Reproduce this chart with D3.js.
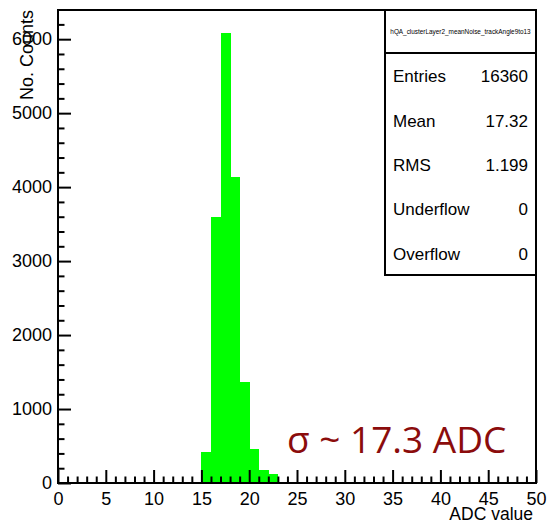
<html lang="en">
<head>
    <meta charset="utf-8">
    <title>hQA_clusterLayer2_meanNoise_trackAngle9to13</title>
    <script src="https://cdn.jsdelivr.net/npm/d3@7"></script>
    <style>
        body { margin: 0; background: #fff; }
        text { font-family: "Liberation Sans", Arial, sans-serif; }
    </style>
</head>
<body>
    <svg width="547" height="525"></svg>
    <script>
        // histogram content (1 ADC wide bins)
        var binLow = [15, 16, 17, 18, 19, 20, 21, 22];
        var counts = [420, 3590, 6090, 4140, 1360, 460, 180, 120];
        var binWidth = 1;

        var xMajorTicks = [0, 5, 10, 15, 20, 25, 30, 35, 40, 45, 50];
        var yMajorTicks = [0, 1000, 2000, 3000, 4000, 5000, 6000];

        var statNames = ["Entries", "Mean", "RMS", "Underflow", "Overflow"];
        var statValues = ["16360", "17.32", "1.199", "0", "0"];

        var histName = "hQA_clusterLayer2_meanNoise_trackAngle9to13";

        var svg = d3.select("svg"),
            frame = {left: 58, right: 536, top: 10, bottom: 483};

        var x = d3.scaleLinear().domain([0, 50]).range([frame.left, frame.right]);
        var y = d3.scaleLinear().domain([0, d3.max(counts) * 1.05]).range([frame.bottom, frame.top]);

        // bars
        svg.append("g").selectAll("rect")
            .data(binLow)
            .enter().append("rect")
            .attr("x", function(d) { return x(d); })
            .attr("width", function(d) { return x(d + binWidth) - x(d) + 0.5; })
            .attr("y", function(d, i) { return y(counts[i]); })
            .attr("height", function(d, i) { return y(0) - y(counts[i]); })
            .attr("shape-rendering", "crispEdges")
            .attr("fill", "#00ff00");

        // frame
        svg.append("rect")
            .attr("x", frame.left).attr("y", frame.top)
            .attr("width", frame.right - frame.left)
            .attr("height", frame.bottom - frame.top)
            .attr("fill", "none").attr("stroke", "#000").attr("stroke-width", 2);

        // x axis: major every 5, minor every 1, ticks pointing inside
        var xMinor = d3.range(0, 51, 1).filter(function(v) { return v % 5 !== 0; });
        var xAxis = svg.append("g")
            .attr("transform", "translate(0," + frame.bottom + ")")
            .call(d3.axisBottom(x).tickValues(xMajorTicks).tickSize(-13).tickPadding(9).tickSizeOuter(0));
        xAxis.select(".domain").remove();
        xAxis.selectAll(".tick line").attr("stroke-width", 2);
        xAxis.selectAll("text").style("font-size", "18px").attr("fill", "#000");
        svg.append("g")
            .attr("transform", "translate(0," + frame.bottom + ")")
            .call(d3.axisBottom(x).tickValues(xMinor).tickSize(-6.5).tickFormat(""))
            .call(function(g) { g.select(".domain").remove(); g.selectAll("line").attr("stroke-width", 2); });

        // y axis: major every 1000, minor every 200
        var yMinor = d3.range(0, 6400, 200).filter(function(v) { return v % 1000 !== 0; });
        var yAxis = svg.append("g")
            .attr("transform", "translate(" + frame.left + ",0)")
            .call(d3.axisLeft(y).tickValues(yMajorTicks).tickSize(-13).tickPadding(6).tickFormat(d3.format("d")));
        yAxis.select(".domain").remove();
        yAxis.selectAll(".tick line").attr("stroke-width", 2);
        yAxis.selectAll("text").style("font-size", "18px").attr("fill", "#000");
        svg.append("g")
            .attr("transform", "translate(" + frame.left + ",0)")
            .call(d3.axisLeft(y).tickValues(yMinor).tickSize(-6.5).tickFormat(""))
            .call(function(g) { g.select(".domain").remove(); g.selectAll("line").attr("stroke-width", 2); });

        // axis titles
        svg.append("text")
            .attr("transform", "translate(33," + frame.top + ") rotate(-90)")
            .attr("text-anchor", "end")
            .style("font-size", "18px")
            .text("No. Counts");

        svg.append("text")
            .attr("x", 533).attr("y", 520)
            .attr("text-anchor", "end")
            .style("font-size", "17.5px")
            .text("ADC value");

        // stats box
        var box = {left: 385, right: 536, top: 10, title: 53, bottom: 275};
        var stats = svg.append("g");
        stats.append("rect")
            .attr("x", box.left).attr("y", box.top)
            .attr("width", box.right - box.left).attr("height", box.bottom - box.top)
            .attr("fill", "#fff").attr("stroke", "#000").attr("stroke-width", 2);
        stats.append("line")
            .attr("x1", box.left).attr("x2", box.right)
            .attr("y1", box.title).attr("y2", box.title)
            .attr("stroke", "#000").attr("stroke-width", 2);
        stats.append("text")
            .attr("x", (box.left + box.right) / 2).attr("y", 34)
            .attr("text-anchor", "middle")
            .style("font-size", "6.4px")
            .text(histName);

        var rowH = (box.bottom - box.title) / statNames.length;
        stats.selectAll(".sname")
            .data(statNames)
            .enter().append("text")
            .attr("class", "sname")
            .attr("x", 393)
            .attr("y", function(d, i) { return box.title + rowH * (i + 0.5) + 7; })
            .style("font-size", "17px")
            .text(function(d) { return d; });
        stats.selectAll(".sval")
            .data(statValues)
            .enter().append("text")
            .attr("class", "sval")
            .attr("x", 528)
            .attr("text-anchor", "end")
            .attr("y", function(d, i) { return box.title + rowH * (i + 0.5) + 7; })
            .style("font-size", "17px")
            .text(function(d) { return d; });

        // annotation
        svg.append("text")
            .attr("x", 287).attr("y", 453)
            .style("font-family", "'Open Sans', sans-serif")
            .style("font-size", "37px")
            .attr("fill", "#8b0c0c")
            .text("σ ~ 17.3 ADC");
    </script>
</body>
</html>
